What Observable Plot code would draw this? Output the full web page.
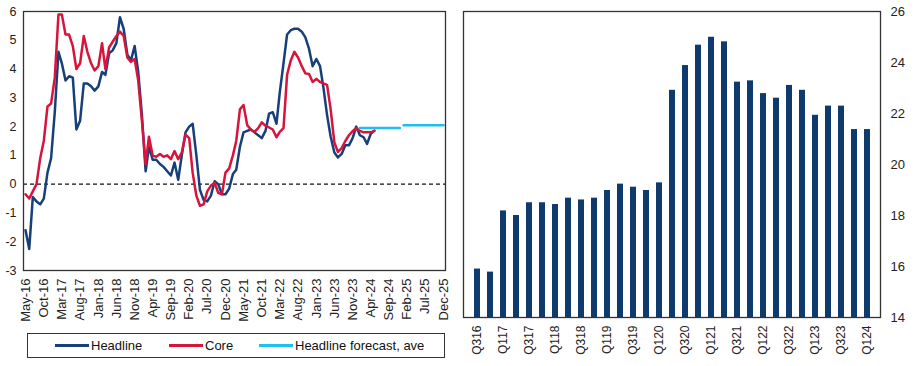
<!DOCTYPE html>
<html><head><meta charset="utf-8">
<script src="https://cdn.jsdelivr.net/npm/d3@7"></script>
<script src="https://cdn.jsdelivr.net/npm/@observablehq/plot@0.6"></script>
<style>
body{margin:0;background:#fff;font-family:"Liberation Sans",Arial,sans-serif;}
#wrap{position:relative;width:917px;height:366px;overflow:hidden;background:#fff;}
#left{position:absolute;left:0;top:0;}
#right{position:absolute;left:455px;top:0;}
#legend{position:absolute;left:27px;top:333px;width:418px;height:25px;border:1px solid #333;box-sizing:border-box;font-size:13px;color:#111;}
.item{position:absolute;top:0;height:23px;display:flex;align-items:center;white-space:nowrap;}
.sw{display:inline-block;width:34px;height:3px;margin-right:2px;}
</style></head>
<body>
<div id="wrap">
  <div id="left"></div>
  <div id="right"></div>
  <div id="legend">
    <div class="item" style="left:27px"><span class="sw" style="background:#17407A"></span>Headline</div>
    <div class="item" style="left:141px"><span class="sw" style="background:#D6143C"></span>Core</div>
    <div class="item" style="left:231px"><span class="sw" style="background:#1FBFEF"></span>Headline forecast, ave</div>
  </div>
</div>
<script>
// ---- Left panel data (monthly, starting May-16) ----
const firstMonth = "May-16";
const headline = [
 -1.6,-2.25,-0.45,-0.6,-0.7,-0.5,0.4,0.9,2.5,4.6,
 4.2,3.6,3.75,3.7,1.9,2.2,3.5,3.5,3.4,3.25,
 3.4,3.9,3.8,4.55,4.65,4.9,5.8,5.4,4.5,4.3,
 4.8,3.9,2.4,0.45,1.3,0.85,0.85,0.7,0.6,0.45,
 0.3,0.75,0.15,1.0,1.8,2.0,2.1,1.0,-0.2,-0.55,
 -0.6,-0.4,0.1,0.0,-0.35,-0.35,-0.15,0.35,0.5,1.3,
 1.8,1.85,1.9,1.8,1.7,1.6,1.85,2.45,2.5,2.1,
 3.2,4.2,5.2,5.35,5.4,5.4,5.3,5.1,4.7,4.1,
 4.35,4.1,3.37,2.4,1.65,1.1,0.93,1.05,1.35,1.35,
 1.6,2.0,1.7,1.63,1.4,1.75,1.86
];
const core = [
 -0.35,-0.5,-0.25,0.0,0.9,1.5,2.7,2.8,3.7,5.9,
 5.9,5.2,5.2,4.8,4.0,4.2,5.15,4.6,4.2,3.95,
 4.1,4.9,4.0,4.75,4.95,5.15,5.3,5.15,4.4,4.25,
 4.35,3.6,2.2,0.7,1.65,1.0,0.95,1.05,0.95,1.0,
 0.87,1.15,0.87,1.1,1.72,1.6,0.4,-0.4,-0.75,-0.7,
 -0.25,-0.05,0.05,-0.3,-0.35,0.4,0.55,1.0,1.5,2.6,
 2.75,2.05,1.9,1.82,1.95,2.15,2.03,1.97,1.9,1.63,
 1.82,1.95,3.8,4.3,4.6,4.4,4.1,3.85,3.83,3.55,
 3.66,3.55,3.5,3.45,2.6,1.45,1.12,1.25,1.5,1.7,
 1.84,1.95,1.85,1.8,1.8,1.8,1.85
];
const forecastYears = [2024, 2025];
const forecastAve = [1.95, 2.05];
const xTickLabels = ["May-16","Oct-16","Mar-17","Aug-17","Jan-18","Jun-18","Nov-18","Apr-19","Sep-19","Feb-20","Jul-20","Dec-20","May-21","Oct-21","Mar-22","Aug-22","Jan-23","Jun-23","Nov-23","Apr-24","Sep-24","Feb-25","Jul-25","Dec-25"];
const yTicksLeft = [-3,-2,-1,0,1,2,3,4,5,6];

// ---- Right panel data (quarterly) ----
const quarters = ["Q316","Q416","Q117","Q217","Q317","Q417","Q118","Q218","Q318","Q418","Q119","Q219","Q319","Q419","Q120","Q220","Q320","Q420","Q121","Q221","Q321","Q421","Q122","Q222","Q322","Q422","Q123","Q223","Q323","Q423","Q124"];
const barValues = [15.9,15.78,18.18,18.0,18.5,18.5,18.43,18.68,18.61,18.68,18.98,19.23,19.11,18.98,19.28,22.91,23.88,24.68,24.99,24.81,23.23,23.28,22.78,22.6,23.1,22.91,21.93,22.29,22.29,21.37,21.37];
const barTickLabels = ["Q316","Q117","Q317","Q118","Q318","Q119","Q319","Q120","Q320","Q121","Q321","Q122","Q322","Q123","Q323","Q124"];
const yTicksRight = [14,16,18,20,22,24,26];

// ---- build tables ----
const parseM = d3.utcParse("%b-%y");
const fmtM = d3.utcFormat("%b-%y");
const start = parseM(firstMonth);
const headRows = headline.map((v,i)=>({date:d3.utcMonth.offset(start,i), value:v}));
const coreRows = core.map((v,i)=>({date:d3.utcMonth.offset(start,i), value:v}));
const fcRows = [];
forecastYears.forEach((yr,k)=>{
  fcRows.push({year:yr, date:new Date(Date.UTC(yr,0,1)), value:forecastAve[k]});
  fcRows.push({year:yr, date:new Date(Date.UTC(yr,11,1)), value:forecastAve[k]});
});
const tickDates = xTickLabels.map(parseM);
const xStart = d3.utcDay.offset(tickDates[0], -17);
const xEnd = d3.utcDay.offset(tickDates[tickDates.length-1], 17);

const font = {fontFamily:"Liberation Sans, Arial, sans-serif", fontSize:"12px", color:"#222", background:"transparent", overflow:"visible"};

const left = Plot.plot({
  width: 460, height: 330,
  marginLeft: 23, marginRight: 15, marginTop: 11, marginBottom: 60,
  style: font,
  x: {type:"utc", domain:[xStart, xEnd], label:null},
  y: {domain:[-3,6], label:null},
  marks: [
    Plot.axisY({ticks: yTicksLeft, tickSize:0, tickPadding:7, tickFormat:d=>String(d), fontSize:12.5, label:null}),
    Plot.axisX({ticks: tickDates, tickFormat: fmtM, tickRotate:-90, tickSize:0, tickPadding:8, fontSize:13, label:null}),
    Plot.ruleY([0], {stroke:"#111", strokeDasharray:"4,3", strokeWidth:1.2}),
    Plot.line(headRows, {x:"date", y:"value", stroke:"#17407A", strokeWidth:2.5}),
    Plot.line(coreRows, {x:"date", y:"value", stroke:"#D6143C", strokeWidth:2.5}),
    Plot.line(fcRows, {x:"date", y:"value", z:"year", stroke:"#1FBFEF", strokeWidth:2.5}),
    Plot.frame({stroke:"#333", strokeWidth:1.3})
  ]
});
document.getElementById("left").appendChild(left);

const barRows = quarters.map((q,i)=>({q, v:barValues[i]}));
const right = Plot.plot({
  width: 462, height: 366,
  marginLeft: 8, marginRight: 37, marginTop: 11, marginBottom: 49,
  style: font,
  x: {type:"band", domain: quarters, paddingInner:0.57, paddingOuter:0.285, label:null},
  y: {domain:[yTicksRight[0], yTicksRight[yTicksRight.length-1]], label:null},
  marks: [
    Plot.barY(barRows, {x:"q", y1: ()=>yTicksRight[0], y2:"v", fill:"#0E3A6D"}),
    Plot.axisY({anchor:"right", ticks: yTicksRight, tickSize:0, tickPadding:10, fontSize:13, label:null}),
    Plot.axisX({ticks: barTickLabels, tickRotate:-90, tickSize:0, tickPadding:8, fontSize:12, label:null}),
    Plot.frame({stroke:"#333", strokeWidth:1.3})
  ]
});
document.getElementById("right").appendChild(right);
</script>
</body></html>
